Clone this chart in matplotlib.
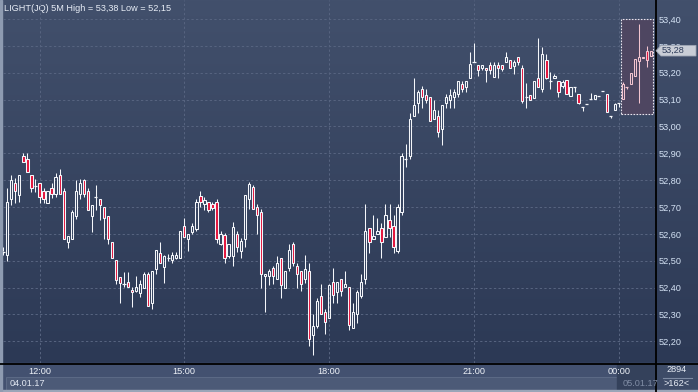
import datetime as dt
import numpy as np
import matplotlib
matplotlib.use("Agg")
import matplotlib.pyplot as plt
from matplotlib.patches import Rectangle, Polygon

# ---------------- data ----------------
title = "LIGHT(JQ) 5M High = 53,38 Low = 52,15"
start_time = dt.datetime(2017, 1, 4, 11, 15)
bar_minutes = 5
volume_text = "2894"
count_text = ">162<"

opens = [52.536, 52.52, 52.729, 52.788, 52.745, 52.889, 52.878, 52.818, 52.78, 52.788,
         52.759, 52.716, 52.77, 52.747, 52.818, 52.759, 52.57, 52.58, 52.668, 52.747,
         52.80, 52.759, 52.668, 52.739, 52.729, 52.70, 52.668, 52.57, 52.502, 52.44,
         52.412, 52.419, 52.391, 52.388, 52.381, 52.40, 52.45, 52.341, 52.471, 52.53,
         52.478, 52.51, 52.502, 52.509, 52.509, 52.628, 52.58, 52.608, 52.617, 52.74,
         52.71, 52.717, 52.71, 52.719, 52.562, 52.594, 52.519, 52.519, 52.60, 52.538,
         52.581, 52.731, 52.775, 52.70, 52.682, 52.444, 52.444, 52.472, 52.431, 52.51,
         52.40, 52.472, 52.562, 52.481, 52.46, 52.431, 52.46, 52.222, 52.258, 52.37,
         52.31, 52.288, 52.42, 52.382, 52.431, 52.401, 52.401, 52.25, 52.30, 52.37,
         52.431, 52.621, 52.58, 52.599, 52.621, 52.59, 52.65, 52.628, 52.538, 52.681,
         52.88, 52.889, 53.04, 53.087, 53.141, 53.118, 53.111, 53.029, 53.04, 52.991,
         53.088, 53.10, 53.109, 53.119, 53.159, 53.148, 53.182, 53.241, 53.228, 53.219,
         53.219, 53.229, 53.184, 53.229, 53.229, 53.239, 53.246, 53.226, 53.259, 53.219,
         53.111, 53.117, 53.107, 53.179, 53.14, 53.246, 53.169, 53.179, 53.169, 53.149,
         53.173, 53.112, 53.145, 53.12, 53.071, 53.083, 53.102, 53.102, 53.112, 53.133,
         53.12, 53.04, 53.061, 53.087, 53.102, 53.148, 53.158, 53.186, 53.243, 53.253,
         53.282, 53.263]
highs = [52.55, 52.772, 52.82, 52.807, 52.818, 52.901, 52.90, 52.818, 52.803, 52.788,
         52.772, 52.759, 52.788, 52.828, 52.842, 52.77, 52.592, 52.688, 52.80, 52.803,
         52.803, 52.77, 52.709, 52.782, 52.729, 52.70, 52.668, 52.57, 52.502, 52.44,
         52.459, 52.459, 52.403, 52.443, 52.428, 52.459, 52.459, 52.46, 52.539, 52.571,
         52.521, 52.524, 52.532, 52.532, 52.61, 52.658, 52.598, 52.639, 52.729, 52.758,
         52.737, 52.717, 52.717, 52.729, 52.61, 52.604, 52.562, 52.644, 52.61, 52.585,
         52.744, 52.795, 52.781, 52.712, 52.691, 52.452, 52.469, 52.481, 52.519, 52.51,
         52.46, 52.562, 52.569, 52.491, 52.46, 52.522, 52.491, 52.30, 52.362, 52.412,
         52.319, 52.412, 52.472, 52.42, 52.431, 52.462, 52.401, 52.341, 52.39, 52.45,
         52.711, 52.621, 52.671, 52.659, 52.64, 52.711, 52.711, 52.669, 52.711, 52.90,
         52.933, 53.05, 53.182, 53.135, 53.15, 53.138, 53.111, 53.10, 53.06, 53.081,
         53.119, 53.14, 53.14, 53.169, 53.169, 53.169, 53.279, 53.309, 53.228, 53.228,
         53.219, 53.239, 53.239, 53.239, 53.229, 53.279, 53.246, 53.246, 53.259, 53.229,
         53.16, 53.117, 53.169, 53.328, 53.297, 53.269, 53.204, 53.194, 53.169, 53.173,
         53.173, 53.148, 53.145, 53.12, 53.071, 53.083, 53.123, 53.118, 53.112, 53.133,
         53.12, 53.04, 53.089, 53.087, 53.164, 53.148, 53.20, 53.251, 53.381, 53.26,
         53.30, 53.282]
lows = [52.52, 52.50, 52.708, 52.716, 52.72, 52.866, 52.829, 52.757, 52.757, 52.716,
        52.716, 52.716, 52.733, 52.739, 52.747, 52.58, 52.549, 52.58, 52.657, 52.729,
        52.739, 52.688, 52.608, 52.688, 52.65, 52.58, 52.561, 52.509, 52.412, 52.341,
        52.402, 52.402, 52.329, 52.384, 52.366, 52.40, 52.331, 52.319, 52.449, 52.49,
        52.418, 52.50, 52.49, 52.506, 52.509, 52.589, 52.536, 52.598, 52.61, 52.70,
        52.689, 52.68, 52.689, 52.565, 52.56, 52.491, 52.51, 52.479, 52.533, 52.51,
        52.55, 52.691, 52.691, 52.60, 52.40, 52.31, 52.41, 52.412, 52.431, 52.36,
        52.40, 52.46, 52.479, 52.40, 52.388, 52.416, 52.182, 52.148, 52.248, 52.30,
        52.229, 52.288, 52.341, 52.341, 52.37, 52.401, 52.241, 52.25, 52.27, 52.36,
        52.412, 52.53, 52.58, 52.599, 52.509, 52.59, 52.59, 52.53, 52.53, 52.669,
        52.848, 52.877, 53.04, 53.051, 53.07, 53.087, 53.022, 53.029, 52.96, 52.93,
        53.07, 53.07, 53.07, 53.109, 53.129, 53.129, 53.182, 53.241, 53.188, 53.21,
        53.167, 53.197, 53.184, 53.179, 53.206, 53.239, 53.217, 53.197, 53.229, 53.086,
        53.068, 53.097, 53.107, 53.147, 53.127, 53.177, 53.14, 53.179, 53.11, 53.142,
        53.12, 53.112, 53.127, 53.083, 53.058, 53.083, 53.102, 53.102, 53.112, 53.133,
        53.055, 53.03, 53.061, 53.071, 53.102, 53.139, 53.158, 53.186, 53.089, 53.253,
        53.22, 53.263]
closes = [52.534, 52.718, 52.80, 52.759, 52.818, 52.869, 52.829, 52.77, 52.78, 52.739,
          52.729, 52.759, 52.747, 52.811, 52.747, 52.58, 52.592, 52.68, 52.759, 52.788,
          52.747, 52.688, 52.709, 52.739, 52.709, 52.658, 52.58, 52.509, 52.43, 52.418,
          52.412, 52.402, 52.382, 52.402, 52.413, 52.45, 52.331, 52.46, 52.539, 52.49,
          52.519, 52.51, 52.521, 52.521, 52.61, 52.589, 52.598, 52.628, 52.719, 52.717,
          52.727, 52.689, 52.698, 52.58, 52.60, 52.51, 52.562, 52.625, 52.55, 52.572,
          52.744, 52.785, 52.691, 52.672, 52.45, 52.45, 52.46, 52.444, 52.491, 52.41,
          52.46, 52.541, 52.491, 52.45, 52.412, 52.469, 52.21, 52.258, 52.35, 52.30,
          52.272, 52.41, 52.372, 52.42, 52.388, 52.412, 52.26, 52.31, 52.382, 52.42,
          52.609, 52.569, 52.593, 52.609, 52.569, 52.669, 52.621, 52.55, 52.70, 52.889,
          52.88, 53.028, 53.081, 53.128, 53.111, 53.098, 53.022, 53.06, 52.98, 53.081,
          53.109, 53.118, 53.129, 53.169, 53.141, 53.169, 53.232, 53.241, 53.21, 53.228,
          53.209, 53.209, 53.229, 53.217, 53.214, 53.259, 53.217, 53.239, 53.239, 53.096,
          53.111, 53.097, 53.169, 53.147, 53.269, 53.179, 53.169, 53.189, 53.127, 53.164,
          53.12, 53.148, 53.145, 53.089, 53.071, 53.083, 53.102, 53.118, 53.112, 53.133,
          53.055, 53.04, 53.083, 53.087, 53.158, 53.148, 53.20, 53.251, 53.26, 53.26,
          53.248, 53.282]
highlight_count = 8          # last bars inside the selection box
price_ticks = [52.20, 52.30, 52.40, 52.50, 52.60, 52.70, 52.80, 52.90,
               53.00, 53.10, 53.20, 53.30, 53.40]

# ---------------- styling ----------------
W, H = 698, 392
PLOT_L, PLOT_R, PLOT_B = 3, 655, 363
BG_TOP = np.array([0x42, 0x50, 0x6c]) / 255
BG_BOT = np.array([0x2c, 0x39, 0x55]) / 255
GRID = "#56637f"
RED = "#e3153d"
WHITE = "#f4f6fa"
PINK = "#f3c4cf"
FONT = "Liberation Sans"

n = len(opens)
times = [start_time + dt.timedelta(minutes=bar_minutes * i) for i in range(n)]
xs = np.arange(1, n + 1)

fig = plt.figure(figsize=(W / 100, H / 100), dpi=100)
fig.patch.set_facecolor("#3f4d69")

# background / decoration axes in pixel coordinates
bg = fig.add_axes([0, 0, 1, 1])
bg.set_xlim(0, W)
bg.set_ylim(H, 0)
bg.axis("off")
grad = np.linspace(0, 1, 256)[:, None, None]
img = BG_TOP * (1 - grad) + BG_BOT * grad
bg.imshow(img, extent=(0, W, PLOT_B, 0), aspect="auto", interpolation="bilinear", zorder=0)

# bottom bands
bg.add_patch(Rectangle((0, PLOT_B), W, H - PLOT_B, color="#435170", zorder=1))
bg.add_patch(Rectangle((6, 377), 611, 13, facecolor="#4c5a77", edgecolor="#5c6a86", lw=0.7, zorder=2))
bg.add_patch(Rectangle((617, PLOT_B), PLOT_R - 617, H - PLOT_B, color="#34415b", zorder=2))
bg.add_patch(Rectangle((PLOT_R, PLOT_B), W - PLOT_R, H - PLOT_B, color="#3d4b67", zorder=2))
bg.add_patch(Rectangle((0, 390), W, 2, color="#9aa5b8", zorder=3))
bg.add_patch(Rectangle((0, 0), 2, H, color="#8e9bb1", zorder=3))
bg.plot([PLOT_R + 0.5, PLOT_R + 0.5], [0, H], color="black", lw=1.3, zorder=4)
bg.plot([0, W], [PLOT_B + 0.5, PLOT_B + 0.5], color="black", lw=1.3, zorder=4)
bg.plot([663, 692], [377.5, 377.5], color="#7d8aa2", lw=0.8, zorder=4)

bg.text(4, 8, title, fontsize=6.6, family=FONT, color="#e8edf6", ha="left", va="center", zorder=5)
bg.text(10, 383, start_time.strftime("%d.%m.%y"), fontsize=6.6, family=FONT,
        color="#e2e8f2", ha="left", va="center", zorder=5)
t_last = bg.text(623, 383, times[-1].strftime("%d.%m.%y"), fontsize=6.6, family=FONT,
                 color="#7f8ca4", ha="left", va="center", zorder=5)
t_last.set_clip_path(Rectangle((617, PLOT_B), PLOT_R - 617, H - PLOT_B, transform=bg.transData))
bg.text(677, 370, volume_text, fontsize=6.6, family=FONT, color="#e8edf6", ha="center", va="center", zorder=5)
bg.text(677, 384, count_text, fontsize=6.6, family=FONT, color="#e8edf6", ha="center", va="center", zorder=5)

# main chart axes
px = 4.04  # pixels per bar
x_left = 1 - 0.3 / px
x_right = n + (PLOT_R - 651) / px
ax = fig.add_axes([PLOT_L / W, (H - PLOT_B) / H, (PLOT_R - PLOT_L) / W, PLOT_B / H])
ax.patch.set_alpha(0)
ax.set_xlim(x_left, x_right)
pp = 26.86 / 0.1   # pixels per price unit
y_top = 52.90 + 153.3 / pp
y_bot = 52.90 - (PLOT_B - 153.3) / pp
ax.set_ylim(y_bot, y_top)
for s in ax.spines.values():
    s.set_visible(False)

# ticks and grid
tick_idx = [i for i, t in enumerate(times) if t.minute == 0 and t.hour % 3 == 0]
ax.set_xticks([xs[i] for i in tick_idx])
ax.set_xticklabels([times[i].strftime("%H:%M") for i in tick_idx])
ax.set_yticks(price_ticks)
ax.set_yticklabels([f"{v:.2f}".replace(".", ",") for v in price_ticks])
ax.yaxis.tick_right()
ax.tick_params(axis="y", length=0, pad=2.3, labelsize=6.6, labelcolor="#d4e2f4")
ax.tick_params(axis="x", length=0, pad=3.0, labelsize=6.6, labelcolor="#eef2f8")
for lab in ax.get_xticklabels() + ax.get_yticklabels():
    lab.set_family(FONT)
ax.grid(True, color=GRID, lw=0.75, linestyle=(0, (2.2, 2.2)))
ax.set_axisbelow(True)

# selection box around last bars
hs = slice(n - highlight_count, n)
box_lo = min(lows[hs]) - 0.044
box_hi = max(highs[hs]) + 0.02
ax.add_patch(Rectangle((xs[n - highlight_count] - 0.45, box_lo),
                       (xs[-1] + 0.4) - (xs[n - highlight_count] - 0.45), box_hi - box_lo,
                       facecolor="#4e4661", edgecolor="#e8e4ee", lw=0.8,
                       linestyle=(0, (1.5, 1.2)), zorder=2))

# candles
bw = 0.55
for i in range(n):
    o, h, l, c = opens[i], highs[i], lows[i], closes[i]
    x = xs[i]
    sel = i >= n - highlight_count
    edge = PINK if sel else WHITE
    top, bot = max(o, c), min(o, c)
    if h > top:
        ax.plot([x, x], [top, h], color=edge, lw=0.75, solid_capstyle="butt", zorder=3)
    if l < bot:
        ax.plot([x, x], [l, bot], color=edge, lw=0.75, solid_capstyle="butt", zorder=3)
    if top - bot < 0.004:
        ax.plot([x - bw / 2 - 0.12, x + bw / 2 + 0.12], [c, c], color=edge, lw=0.9,
                solid_capstyle="butt", zorder=4)
    else:
        face = RED if c < o else "none"
        ax.add_patch(Rectangle((x - bw / 2, bot), bw, top - bot, facecolor=face,
                               edgecolor=edge, lw=0.75, zorder=4))

bg.set_zorder(0)
ax.set_zorder(1)

# last price marker on an overlay above the price labels
last = closes[-1]
ylast = (y_top - last) * pp
ov = fig.add_axes([0, 0, 1, 1])
ov.set_xlim(0, W)
ov.set_ylim(H, 0)
ov.axis("off")
ov.patch.set_alpha(0)
ov.set_zorder(2)
ov.add_patch(Polygon([[656, ylast], [661, ylast - 5.3], [696, ylast - 5.3],
                      [696, ylast + 5.3], [661, ylast + 5.3]],
                     closed=True, facecolor="#c9cdd6", edgecolor="#9ea6b4", lw=0.6))
ov.text(662, ylast, f"{last:.2f}".replace(".", ","), fontsize=6.6, family=FONT,
        color="#2e3c5a", ha="left", va="center")

fig.savefig("out.png", dpi=100, facecolor=fig.get_facecolor())
